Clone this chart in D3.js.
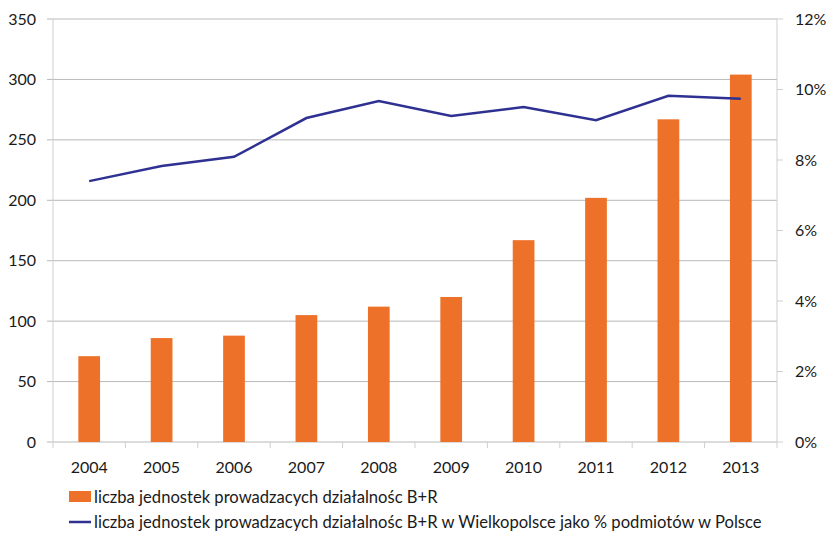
<!DOCTYPE html>
<html><head><meta charset="utf-8">
<script src="https://cdn.jsdelivr.net/npm/d3@7"></script>
<style>body{margin:0;background:#fff}svg{display:block}text{font-family:Lato,"Open Sans",sans-serif;fill:#1a1a1a}</style>
</head><body><svg width="826" height="534"></svg>
<script>
const years = ["2004","2005","2006","2007","2008","2009","2010","2011","2012","2013"];
const units = [71, 86, 88, 105, 112, 120, 167, 202, 267, 304];
const share = [7.40, 7.83, 8.09, 9.19, 9.67, 9.25, 9.50, 9.13, 9.82, 9.74];
const leftTicks = [0,50,100,150,200,250,300,350];
const rightTicks = [0,2,4,6,8,10,12];
const legendLabels = ["liczba jednostek prowadzacych działalnośc B+R","liczba jednostek prowadzacych działalnośc B+R w Wielkopolsce jako % podmiotów w Polsce"];

const svg = d3.select("svg");
const L=53, R=777, T=19, B=442;
const x = d3.scaleBand().domain(years).range([L,R]).paddingInner(0.7).paddingOuter(0.35);
const xc = d3.scaleBand().domain(years).range([L,R]);
const y = d3.scaleLinear().domain([0,350]).range([B,T]);
const y2 = d3.scaleLinear().domain([0,12]).range([B,T]);

// gridlines
svg.append("g").selectAll("line").data(leftTicks).join("line")
  .attr("x1",L-6).attr("x2",R).attr("y1",d=>y(d)).attr("y2",d=>y(d))
  .attr("stroke","#b8b8b8").attr("stroke-width",1);
// left axis line
svg.append("line").attr("x1",L).attr("x2",L).attr("y1",T).attr("y2",B).attr("stroke","#cfcfcf");
// right axis
svg.append("line").attr("x1",R).attr("x2",R).attr("y1",T).attr("y2",B).attr("stroke","#cfcfcf");
svg.append("g").selectAll("line").data(rightTicks).join("line")
  .attr("x1",R).attr("x2",R+6).attr("y1",d=>y2(d)).attr("y2",d=>y2(d)).attr("stroke","#cfcfcf");
// x ticks
svg.append("g").selectAll("line").data(years.concat(["end"])).join("line")
  .attr("x1",(d,i)=>L+i*xc.step()).attr("x2",(d,i)=>L+i*xc.step())
  .attr("y1",B).attr("y2",B+6).attr("stroke","#cfcfcf");

// bars
svg.append("g").selectAll("rect").data(units).join("rect")
  .attr("x",(d,i)=>x(years[i])).attr("width",x.bandwidth())
  .attr("y",d=>y(d)).attr("height",d=>B-y(d)).attr("fill","#ED7128");

// line
svg.append("path").datum(share)
  .attr("d",d3.line().x((d,i)=>xc(years[i])+xc.bandwidth()/2).y(d=>y2(d)))
  .attr("fill","none").attr("stroke","#2E3192").attr("stroke-width",2.5);

// labels
svg.append("g").selectAll("text").data(leftTicks).join("text")
  .attr("x",36).attr("y",d=>y(d)).attr("dy","0.35em").attr("text-anchor","end")
  .attr("font-size",16).text(d=>d);
svg.append("g").selectAll("text").data(rightTicks).join("text")
  .attr("x",795).attr("y",d=>y2(d)).attr("dy","0.35em").attr("text-anchor","start")
  .attr("font-size",16).text(d=>d+"%");
svg.append("g").selectAll("text").data(years).join("text")
  .attr("x",d=>xc(d)+xc.bandwidth()/2).attr("y",467).attr("dy","0.35em").attr("text-anchor","middle")
  .attr("font-size",16).text(d=>d);

// legend
svg.append("rect").attr("x",69).attr("y",491).attr("width",22).attr("height",11).attr("fill","#ED7128");
svg.append("line").attr("x1",69).attr("x2",91).attr("y1",522).attr("y2",522).attr("stroke","#2E3192").attr("stroke-width",2.5);
svg.append("g").selectAll("text").data(legendLabels).join("text")
  .attr("x",94).attr("y",(d,i)=>497+i*25).attr("dy","0.35em").attr("font-size",16.6).text(d=>d);
</script></body></html>
